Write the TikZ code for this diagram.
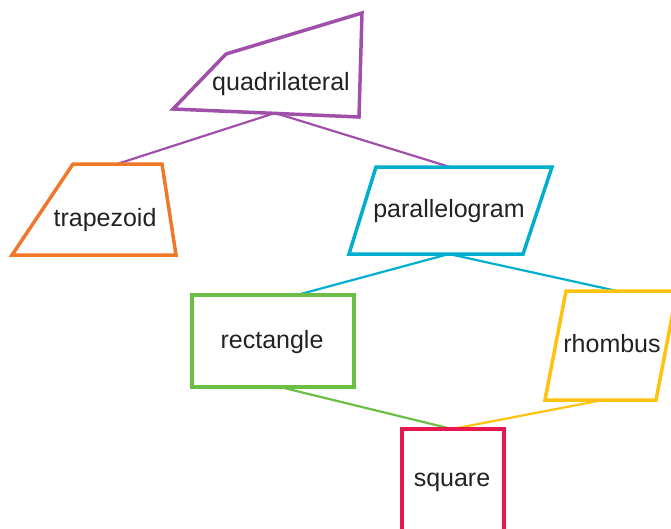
\documentclass[tikz,border=0pt]{standalone}
\usepackage{fontspec}
\setmainfont{Liberation Sans}
\usetikzlibrary{positioning}
\definecolor{quadpurple}{HTML}{A050A8}
\definecolor{traporange}{HTML}{F07828}
\definecolor{paracyan}{HTML}{00AECF}
\definecolor{rectgreen}{HTML}{6BBF45}
\definecolor{rhomyellow}{HTML}{FFC20E}
\definecolor{sqred}{HTML}{E8174F}
\definecolor{textgray}{HTML}{222222}

\begin{document}
\begin{tikzpicture}[
  x=1pt, y=-1pt,
  font=\fontsize{25}{30}\selectfont,
  outline/.style={line width=3.5pt, fill=white, draw=#1, line join=miter},
  link/.style={line width=2.2pt, draw=#1},
  word/.style={text=textgray, inner sep=0pt, anchor=base}
]
\clip (0,0) rectangle (671,528);
% connector ends
\coordinate (quad-s) at (275,113);
\coordinate (trap-n) at (117,164);
\coordinate (para-n) at (450,167);
\coordinate (para-s) at (449,254);
\coordinate (rect-n) at (297,295);
\coordinate (rect-s) at (280,387);
\coordinate (rhom-n) at (617,291);
\coordinate (rhom-s) at (603,400);
\coordinate (sq-n) at (452,429);
% connectors
\draw[link=quadpurple] (quad-s) -- (trap-n);
\draw[link=quadpurple] (quad-s) -- (para-n);
\draw[link=paracyan] (para-s) -- (rect-n);
\draw[link=paracyan] (para-s) -- (rhom-n);
\draw[link=rectgreen] (rect-s) -- (sq-n);
\draw[link=rhomyellow] (rhom-s) -- (sq-n);
% shapes
\draw[outline=quadpurple] (173,109) -- (226,54) -- (362,13) -- (359,117) -- cycle;
\draw[outline=traporange] (12,255) -- (73,164) -- (162,164) -- (176,255) -- cycle;
\draw[outline=paracyan] (349,254) -- (376,167) -- (552,167) -- (523,254) -- cycle;
\draw[outline=rectgreen] (192,295) rectangle (354,387);
\draw[outline=rhomyellow] (545,400) -- (566,291) -- (677,291) -- (656,400) -- cycle;
\draw[outline=sqred] (402,429) -- (504,429) -- (504,540) -- (402,540) -- cycle;
% labels
\node[word] (quad) at (281,90) {quadrilateral};
\node[word] (trap) at (105,226) {trapezoid};
\node[word] (para) at (449,217) {parallelogram};
\node[word] (rect) at (272,348) {rectangle};
\node[word] (rhom) at (612,352) {rhombus};
\node[word] (sq) at (452,486) {square};
\end{tikzpicture}
\end{document}
